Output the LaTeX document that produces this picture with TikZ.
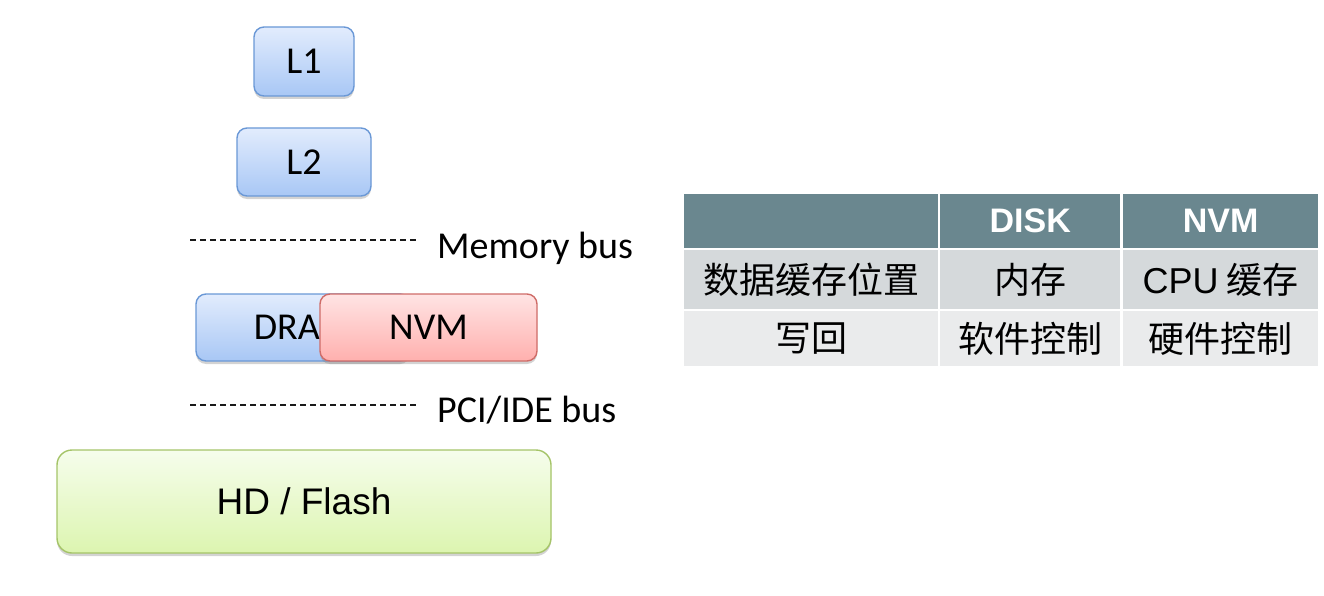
\documentclass[tikz,border=0pt]{standalone}
\usepackage{fontspec}
\setmainfont{Carlito}
\newfontfamily\arialf{Liberation Sans}
\newfontfamily\cjk{Noto Sans CJK SC}
\usetikzlibrary{shadows}
\definecolor{bluetop}{HTML}{E2ECFD}
\definecolor{bluebot}{HTML}{A8C7F5}
\definecolor{blueedge}{HTML}{6A98D6}
\definecolor{redtop}{HTML}{FFE4E4}
\definecolor{redbot}{HTML}{FFB0AE}
\definecolor{rededge}{HTML}{CF6C68}
\definecolor{greentop}{HTML}{F6FDEC}
\definecolor{greenbot}{HTML}{DCF5B0}
\definecolor{greenedge}{HTML}{A5C468}
\definecolor{headcol}{HTML}{6A878F}
\definecolor{rowa}{HTML}{D5D9DB}
\definecolor{rowb}{HTML}{EAEBEC}
\tikzset{
  memb/.style={draw=#1edge, line width=1.4pt, rounded corners=10pt, top color=#1top, bottom color=#1bot,
    drop shadow={opacity=0.35, shadow xshift=0pt, shadow yshift=-3pt},
    inner sep=0pt, font=\fontsize{38}{40}\selectfont},
  busline/.style={dash pattern=on 6pt off 4pt, line width=1.1pt, black!90},
  buslabel/.style={anchor=base west, inner sep=0pt, font=\fontsize{38}{40}\selectfont},
  cell/.style={anchor=north west, inner sep=0pt, fill=#1, font=\cjk\fontsize{36}{38}\selectfont},
  headtext/.style={text=white, font=\arialf\bfseries\fontsize{34}{36}\selectfont}
}
\begin{document}
\begin{tikzpicture}[x=1pt,y=-1pt]
\useasboundingbox (0,0) rectangle (1324,596);
% memory hierarchy
\node[memb=blue, minimum width=100pt, minimum height=69pt] (l1) at (304,61.5) {L1};
\node[memb=blue, minimum width=134pt, minimum height=68pt] (l2) at (304,162) {L2};
\coordinate (mb1) at (190,240);
\coordinate (mb2) at (418,240);
\draw[busline] (mb1) -- (mb2);
\node[buslabel] (mbl) at (437,258) {Memory bus};
\node[memb=blue, minimum width=214pt, minimum height=67pt] (dram) at (303,327.5) {DRAM};
\node[memb=red, minimum width=217pt, minimum height=67pt] (nvm) at (428.5,327.5) {NVM};
\coordinate (pb1) at (190,405);
\coordinate (pb2) at (418,405);
\draw[busline] (pb1) -- (pb2);
\node[buslabel] (pbl) at (437,422) {PCI/IDE bus};
\node[memb=green, rounded corners=15pt, minimum width=494pt, minimum height=103pt, font=\arialf\fontsize{37}{40}\selectfont] (hd) at (304,501.5) {\raisebox{-3pt}{HD / Flash}};
% table
\node[cell=headcol, minimum width=254pt, minimum height=54pt] (h1) at (684,194) {};
\node[cell=headcol, minimum width=180pt, minimum height=54pt, headtext] (h2) at (940,194) {\raisebox{-3pt}{DISK}};
\node[cell=headcol, minimum width=195pt, minimum height=54pt, headtext] (h3) at (1123,194) {\raisebox{-3pt}{NVM}};
\node[cell=rowa, minimum width=254pt, minimum height=59pt] (a1) at (684,250) {数据缓存位置};
\node[cell=rowa, minimum width=180pt, minimum height=59pt] (a2) at (940,250) {内存};
\node[cell=rowa, minimum width=195pt, minimum height=59pt] (a3) at (1123,250) {{\arialf CPU} 缓存};
\node[cell=rowb, minimum width=254pt, minimum height=55pt] (b1) at (684,311) {写回};
\node[cell=rowb, minimum width=180pt, minimum height=55pt] (b2) at (940,311) {软件控制};
\node[cell=rowb, minimum width=195pt, minimum height=55pt] (b3) at (1123,311) {硬件控制};
\end{tikzpicture}
\end{document}
